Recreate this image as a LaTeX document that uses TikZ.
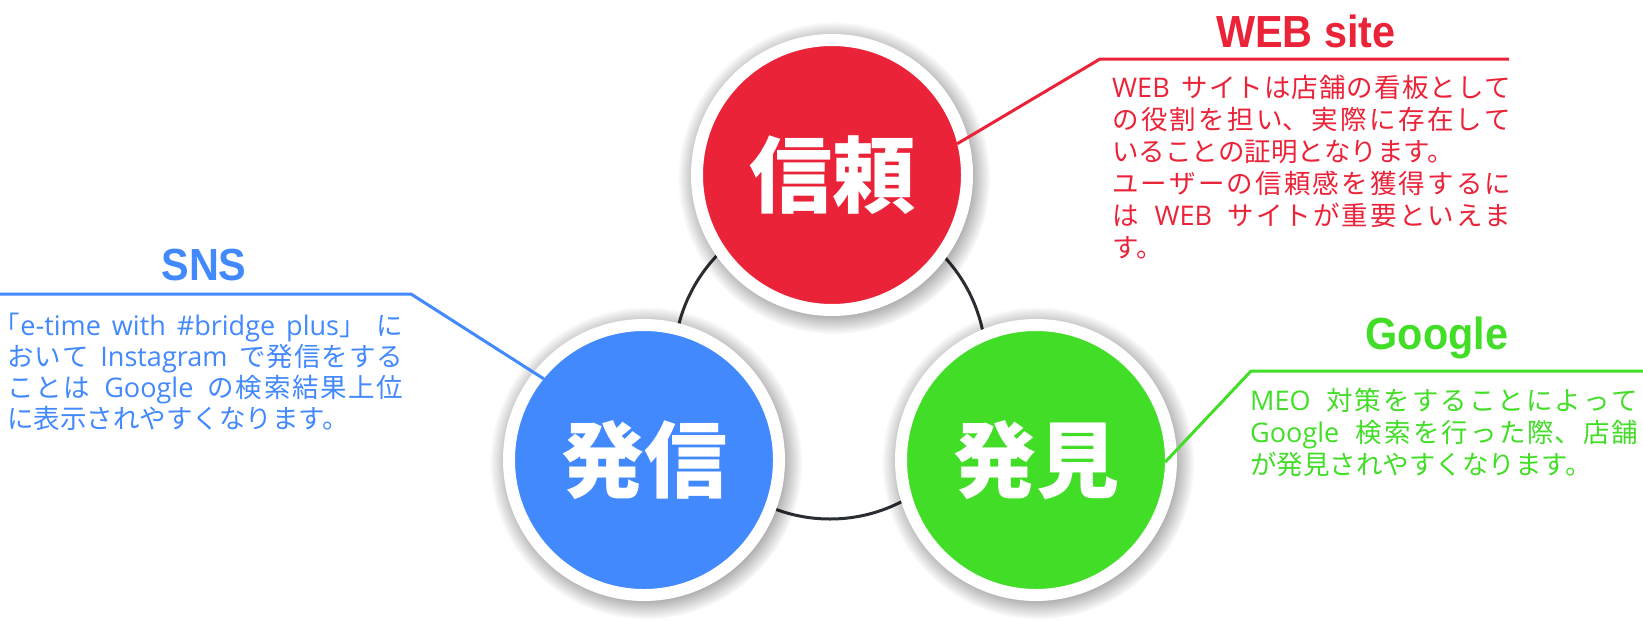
\documentclass[tikz,border=0pt]{standalone}
\usepackage{fontspec}
\usepackage{graphicx}
\usetikzlibrary{fadings}
\setmainfont{Noto Sans CJK JP}
\newfontfamily\cjk{Noto Sans CJK JP}[WordSpace={1.3,4,1.5}]
\newfontfamily\latfont{Open Sans}[Scale=1.02, WordSpace={1,0.3,0.3}]
\newfontfamily\titlefont{Liberation Sans}
\newcommand\lat[1]{{\latfont #1}}
\newcommand\openbr{{\addfontfeature{RawFeature=+halt}「}}
\XeTeXlinebreaklocale "ja"
\XeTeXlinebreakskip=0pt plus 3pt
\definecolor{cred}{RGB}{235,35,57}
\definecolor{cblue}{RGB}{66,137,254}
\definecolor{cgreen}{RGB}{66,222,39}
\definecolor{ringcol}{RGB}{42,46,51}
\tikzset{
  bubble/.style={circle, draw=white, line width=12pt, minimum size=270pt, inner sep=0pt, outer sep=-6pt, text=white, font=\cjk\bfseries\fontsize{83pt}{83pt}\selectfont},
  softshadow/.style={fill=black, opacity=0.5, path fading=circle with fuzzy edge 20 percent},
  titlelabel/.style={inner sep=0pt, anchor=base, font=\titlefont\bfseries\fontsize{45pt}{45pt}\selectfont},
  bodytext/.style={inner sep=0pt, anchor=base west, align=justify, font=\cjk\fontsize{26.5pt}{32pt}\selectfont},
  leader/.style={line width=3pt},
}
\begin{document}
\begin{tikzpicture}[x=1pt,y=-1pt]
\useasboundingbox (0,0) rectangle (1643,635);
\fill[white] (0,0) rectangle (1643,635);
% connecting ring
\draw[ringcol, line width=3pt] (830,363) circle (156);
% shadows
\fill[softshadow] (834,178) circle (156);
\fill[softshadow] (646,463) circle (156);
\fill[softshadow] (1038,463) circle (156);
% circles
\node[bubble, fill=cred] (trust) at (832,175) {信頼};
\node[bubble, fill=cblue] (send) at (644,460) {発信};
\node[bubble, fill=cgreen] (find) at (1036,460) {発見};
% leaders
\coordinate (rk) at (1100,59);
\coordinate (re) at (1509,59);
\draw[leader, cred] (trust.14) -- (rk) -- (re);
\coordinate (bk) at (411,294);
\coordinate (be) at (0,294);
\draw[leader, cblue] (send.141) -- (bk) -- (be);
\coordinate (gk) at (1251,371);
\coordinate (ge) at (1643,371);
\draw[leader, cgreen] (find.-1) -- (gk) -- (ge);
% titles
\node[titlelabel, text=cred] (rtitle) at (1306,47) {\scalebox{0.92}[1]{WEB site}};
\node[titlelabel, text=cblue] (btitle) at (204,280) {\scalebox{0.92}[1]{SNS}};
\node[titlelabel, text=cgreen] (gtitle) at (1437,349) {\scalebox{0.92}[1]{Google}};
% body texts
\node[bodytext, text=cred, text width=399pt] (rtext) at (1112,97) {\parindent=0pt\parskip=0pt\tolerance=10000\emergencystretch=0pt
\lat{WEB} サイトは店舗の看板として\linebreak の役割を担い、実際に存在して\linebreak いることの証明となります。\par ユーザーの信頼感を獲得するに\linebreak は \lat{WEB} サイトが重要といえま\linebreak す。};
\node[bodytext, text=cblue, text width=396pt, font=\cjk\fontsize{26.5pt}{31pt}\selectfont] (btext) at (7,335) {\parindent=0pt\parskip=0pt\tolerance=10000\emergencystretch=0pt
\openbr\lat{e-time with \#bridge plus}」に\linebreak おいて \lat{Instagram} で発信をする\linebreak ことは \lat{Google} の検索結果上位\linebreak に表示されやすくなります。};
\node[bodytext, text=cgreen, text width=388pt] (gtext) at (1250,410) {\parindent=0pt\parskip=0pt\tolerance=10000\emergencystretch=0pt
\lat{MEO} 対策をすることによって\linebreak \lat{Google} 検索を行った際、店舗\linebreak が発見されやすくなります。};
\end{tikzpicture}
\end{document}
